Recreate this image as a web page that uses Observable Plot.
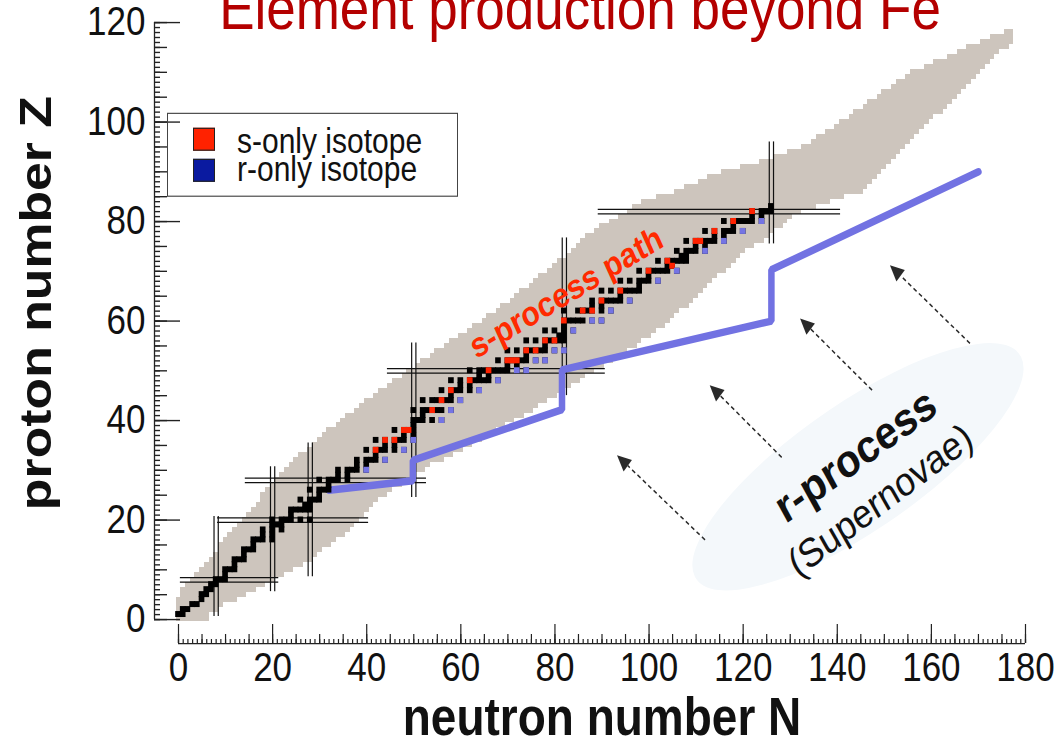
<!DOCTYPE html>
<html>
<head>
<meta charset="utf-8">
<script src="https://cdn.jsdelivr.net/npm/d3@7"></script>
<script src="https://cdn.jsdelivr.net/npm/@observablehq/plot@0.6"></script>
<style>
html, body { margin: 0; padding: 0; background: #fff; overflow: hidden; }
#outer { position: relative; width: 1062px; height: 748px; overflow: hidden; background: #fff; }
#wrap { position: absolute; left: 0; top: 0; width: 1062px; height: 650px; transform-origin: 0 0; font-family: "Liberation Sans", Arial, Helvetica, sans-serif; }
#legend { position: absolute; left: 167px; top: 98.2px; width: 291px; height: 73px; box-sizing: border-box; border: 1.4px solid #444; }
#legend .sw { position: absolute; left: 25px; width: 22px; height: 20px; box-sizing: border-box; border: 1.2px solid #222; }
#legend .lab { position: absolute; left: 69px; font-size: 30px; line-height: 24px; color: #111; white-space: nowrap; }
</style>
</head>
<body>
<div id="outer"><div id="wrap"></div></div>
<script>
// ---------------- data ----------------
// Extent of known nuclides: for Z = 0,1,2,... (array index), lightest and heaviest N
const bandNmin = [0,0,0,0,0,1,1,2,3,4,
  5,6,7,8,9,9,10,11,12,13,
  14,15,16,17,18,18,19,20,21,22,
  23,24,25,26,28,29,30,31,32,34,
  35,36,38,39,40,42,43,45,46,48,
  49,51,52,54,55,57,58,60,62,63,
  65,66,68,69,71,72,73,75,76,77,
  79,80,81,83,84,85,86,87,89,90,
  92,94,96,97,99,102,106,108,111,113,
  116,120,124,127,130,133,135,136,138,140,
  141,143,144,146,147,149,150,152,153,155,
  156,159,161,164,166,168,171,173,176];
const bandNmax = [6,6,8,9,12,14,16,18,20,22,
  24,26,28,29,30,32,33,35,36,37,
  38,39,40,41,42,44,45,47,48,50,
  52,53,56,58,60,62,64,65,67,69,
  71,73,75,76,78,80,81,83,85,86,
  88,90,92,93,95,97,98,100,101,103,
  104,105,106,108,109,110,111,112,113,114,
  116,117,118,119,120,122,124,125,126,128,
  129,130,132,135,138,141,145,146,147,148,
  149,150,151,152,153,154,155,156,157,158,
  159,160,162,163,164,165,166,167,168,169,
  170,171,172,173,174,176,177,177,177];

// Stable isotopes: [Z, [N, ...]]
const stableIsotopes = [
  [1,[0,1]],[2,[1,2]],[3,[3,4]],[4,[5]],[5,[5,6]],[6,[6,7]],[7,[7,8]],[8,[8,9,10]],[9,[10]],
  [10,[10,11,12]],[11,[12]],[12,[12,13,14]],[13,[14]],[14,[14,15,16]],[15,[16]],[16,[16,17,18,20]],
  [17,[18,20]],[18,[18,20,22]],[19,[20,21,22]],[20,[20,22,23,24,26,28]],[21,[24]],[22,[24,25,26,27,28]],
  [23,[27,28]],[24,[26,28,29,30]],[25,[30]],[26,[28,30,31,32]],[27,[32]],[28,[30,32,33,34,36]],
  [29,[34,36]],[30,[34,36,37,38,40]],[31,[38,40]],[32,[38,40,41,42,44]],[33,[42]],[34,[40,42,43,44,46,48]],
  [35,[44,46]],[36,[42,44,46,47,48,50]],[37,[48,50]],[38,[46,48,49,50]],[39,[50]],[40,[50,51,52,54,56]],
  [41,[52]],[42,[50,52,53,54,55,56,58]],[44,[52,54,55,56,57,58,60]],[45,[58]],[46,[56,58,59,60,62,64]],
  [47,[60,62]],[48,[58,60,62,63,64,65,66,68]],[49,[64,66]],[50,[62,64,65,66,67,68,69,70,72,74]],
  [51,[70,72]],[52,[68,70,71,72,73,74,76,78]],[53,[74]],[54,[70,72,74,75,76,77,78,80,82]],[55,[78]],
  [56,[74,76,78,79,80,81,82]],[57,[81,82]],[58,[78,80,82,84]],[59,[82]],[60,[82,83,84,85,86,88,90]],
  [62,[82,85,86,87,88,90,92]],[63,[88,90]],[64,[88,90,91,92,93,94,96]],[65,[94]],[66,[90,92,94,95,96,97,98]],
  [67,[98]],[68,[94,96,98,99,100,102]],[69,[100]],[70,[98,100,101,102,103,104,106]],[71,[104,105]],
  [72,[102,104,105,106,107,108]],[73,[107,108]],[74,[106,108,109,110,112]],[75,[110,112]],
  [76,[108,110,111,112,113,114,116]],[77,[114,116]],[78,[112,114,116,117,118,120]],[79,[118]],
  [80,[116,118,119,120,121,122,124]],[81,[122,124]],[82,[122,124,125,126]],[83,[126]]
];
// s-only isotopes [Z, N]
const sOnlyIsotopes = [[34,42],[36,44],[36,46],[38,48],[38,49],[42,54],[44,56],[46,58],[48,62],[50,66],
  [52,70],[52,71],[52,72],[54,74],[54,76],[56,78],[56,80],[60,82],[62,86],[62,88],[64,90],[66,94],
  [70,100],[71,105],[72,104],[76,110],[76,111],[78,114],[80,118],[82,122]];
// r-only isotopes [Z, N]
const rOnlyIsotopes = [[30,40],[32,44],[34,48],[36,50],[40,56],[42,58],[44,60],[46,64],[48,68],[50,72],
  [50,74],[52,76],[52,78],[54,80],[54,82],[58,84],[60,88],[60,90],[62,92],[64,96],[68,102],[70,106],
  [74,112],[76,116],[78,120],[80,124]];

// r-process path
const rPathN = [32, 49.8, 49.8, 81.5, 81.5, 126, 126, 170];
const rPathZ = [26, 27.9, 32, 42.2, 50.2, 60, 70.3, 90];

// magic numbers (double lines)
const magicN = [8, 20, 28, 50, 82, 126];
const magicNZfrom = [0.6, 5.6, 8.6, 24.5, 45, 75.5];
const magicNZto = [20.7, 30.7, 35.5, 55.6, 76.7, 96];
const magicZ = [8, 20, 28, 50, 82];
const magicZNfrom = [0.4, 8.3, 14.2, 44.4, 89.2];
const magicZNto = [21.3, 40.4, 52.7, 90.7, 140.7];

// dashed arrows (tail -> head)
const arrowTailN = [112, 128.3, 147.5, 168.3];
const arrowTailZ = [15.9, 32.5, 46, 55.4];
const arrowHeadN = [93.3, 113, 132.2, 151.3];
const arrowHeadZ = [32.9, 47, 60.4, 71.1];

// ticks and texts
const xTickLabels = [0, 20, 40, 60, 80, 100, 120, 140, 160, 180];
const yTickLabels = [0, 20, 40, 60, 80, 100, 120];
const titleText = ["Element production beyond Fe"];
const xLabel = ["neutron number N"];
const yLabel = ["proton number Z"];
const sPathLabel = ["s-process path"];
const rLabel = ["r-process"];
const rSubLabel = ["(Supernovae)"];
const legendLabels = ["s-only isotope", "r-only isotope"];

// ---------------- layout ----------------
// the reference picture is stretched vertically; draw at H0 and stretch by S
const W = 1062, H = 748, H0 = 650, S = H / H0;
const deg = (a) => Math.atan(Math.tan(a * Math.PI / 180) / S) * 180 / Math.PI; // screen angle -> drawing angle

// ---------------- tables ----------------
const band = bandNmin.map((n, i) => ({Z: i, n1: n, n2: bandNmax[i]}));
const stable = stableIsotopes.flatMap(([Z, Ns]) => Ns.map(N => ({N, Z})));
const sOnly = sOnlyIsotopes.map(([Z, N]) => ({N, Z}));
const rOnly = rOnlyIsotopes.map(([Z, N]) => ({N, Z}));
const rPath = rPathN.map((N, i) => ({N, Z: rPathZ[i]}));
const magicV = magicN.map((N, i) => ({N, z1: magicNZfrom[i], z2: magicNZto[i]}));
const magicH = magicZ.map((Z, i) => ({Z, n1: magicZNfrom[i], n2: magicZNto[i]}));

const xMinor = d3.range(0, 181, 1), xMid = d3.range(0, 181, 5);
const yMinor = d3.range(0, 121, 1), yMid = d3.range(0, 121, 5);

const h = 0.6;
const cell = (fill) => ({x1: d => d.N - h, x2: d => d.N + h, y1: d => d.Z - h, y2: d => d.Z + h, fill});

function ellipseMark(index, scales) {
  const cx = scales.x(144.5), cy = scales.y(30.6);
  return d3.create("svg:ellipse")
    .attr("cx", cx).attr("cy", cy).attr("rx", 189).attr("ry", 57)
    .attr("transform", `rotate(${-deg(34)} ${cx} ${cy})`)
    .attr("fill", "#f4f8fb").node();
}
function arrowsMark(index, scales) {
  const g = d3.create("svg:g");
  arrowTailN.forEach((_, i) => {
    const x1 = scales.x(arrowTailN[i]), y1 = scales.y(arrowTailZ[i]);
    const x2 = scales.x(arrowHeadN[i]), y2 = scales.y(arrowHeadZ[i]);
    const a = Math.atan2(y2 - y1, x2 - x1), L = 14, w = 6.5;
    const bx = x2 - L * Math.cos(a), by = y2 - L * Math.sin(a);
    g.append("line").attr("x1", x1).attr("y1", y1).attr("x2", bx).attr("y2", by)
      .attr("stroke", "#2a2a2a").attr("stroke-width", 1.4).attr("stroke-dasharray", "4,3");
    g.append("path")
      .attr("d", `M${x2},${y2}L${bx - w * Math.sin(a)},${by + w * Math.cos(a)}L${bx + w * Math.sin(a)},${by - w * Math.cos(a)}Z`)
      .attr("fill", "#2a2a2a");
  });
  return g.node();
}

const axisCommon = {label: null, stroke: "#222", strokeWidth: 1.2};
const yTop = 22 / S, yBottom = 619 / S;

const chart = Plot.plot({
  width: W, height: H0,
  marginLeft: 178, marginRight: 37, marginTop: yTop, marginBottom: H0 - yBottom,
  x: {domain: [0, 180]},
  y: {domain: [0, 120]},
  style: {fontFamily: '"Liberation Sans", Arial, Helvetica, sans-serif', background: "white", color: "#111", overflow: "hidden"},
  marks: [
    // known nuclides
    Plot.rect(band, {x1: d => d.n1 - 0.5, x2: d => d.n2 + 0.5, y1: d => d.Z - 0.5, y2: d => d.Z + 0.5, fill: "#cdc5bd", shapeRendering: "crispEdges"}),
    // magic number double lines
    ...[-0.45, 0.45].map(o => Plot.ruleX(magicV, {x: d => d.N + o, y1: "z1", y2: "z2", stroke: "#111", strokeWidth: 1.2})),
    ...[-0.45, 0.45].map(o => Plot.ruleY(magicH, {y: d => d.Z + o, x1: "n1", x2: "n2", stroke: "#111", strokeWidth: 1.1})),
    // r-process path
    Plot.line(rPath, {x: "N", y: "Z", stroke: "#7272e2", strokeWidth: 6.5, strokeLinejoin: "miter"}),
    // isotopes
    Plot.rect(stable, cell("#000")),
    Plot.rect(sOnly, cell("#ff2200")),
    Plot.rect(rOnly, cell("#7474e4")),
    // annotations
    ellipseMark,
    arrowsMark,
    Plot.text(sPathLabel, {x: 82.4, y: 65.7, text: d => d, rotate: -deg(31), fontSize: 30, fontWeight: "bold", fill: "#ff2a00"}),
    Plot.text(rLabel, {x: 143.9, y: 32.9, text: d => d, rotate: -deg(36), fontSize: 40, fontWeight: "bold", fill: "#111"}),
    Plot.text(rSubLabel, {x: 149.2, y: 23.9, text: d => d, rotate: -deg(37), fontSize: 35, fill: "#111"}),
    // y axis
    Plot.ruleX([0], {y1: 0, y2: 120, dx: -24, stroke: "#222", strokeWidth: 1.3}),
    Plot.axisY(yMinor, {anchor: "left", tickSize: -6, dx: -24, fill: "none", ...axisCommon}),
    Plot.axisY(yMid, {anchor: "left", tickSize: -13, dx: -24, fill: "none", ...axisCommon}),
    Plot.axisY(yTickLabels, {anchor: "left", tickSize: -26, dx: -24, fill: "none", ...axisCommon}),
    Plot.axisY(yTickLabels, {anchor: "left", tickSize: 0, tickPadding: 9, dx: -24, fontSize: 35, label: null, fill: "#111"}),
    // x axis
    Plot.ruleY([0], {x1: 0, x2: 180, dy: 24 / S, stroke: "#222", strokeWidth: 1.2}),
    Plot.axisX(xMinor, {anchor: "bottom", tickSize: -4 / S, dy: 24 / S, fill: "none", ...axisCommon}),
    Plot.axisX(xMid, {anchor: "bottom", tickSize: -9 / S, dy: 24 / S, fill: "none", ...axisCommon}),
    Plot.axisX(xTickLabels, {anchor: "bottom", tickSize: -19 / S, dy: 24 / S, fill: "none", ...axisCommon}),
    Plot.axisX(xTickLabels, {anchor: "bottom", tickSize: 0, tickPadding: 9 / S, dy: 24 / S, fontSize: 35, label: null, fill: "#111"}),
    // axis titles
    Plot.text(xLabel, {frameAnchor: "bottom", dy: 115 / S, lineAnchor: "bottom", text: d => d, fontSize: 46, fontWeight: "bold", fill: "#111"}),
    Plot.text(yLabel, {frameAnchor: "left", textAnchor: "middle", dx: -128, dy: -18 / S, rotate: -90, lineAnchor: "bottom", text: d => d, fontSize: 45, fontWeight: "bold", fill: "#111"}),
    // title (cropped at the top like the reference)
    Plot.text(titleText, {frameAnchor: "top", dx: -22, dy: 6 / S, lineAnchor: "bottom", text: d => d, fontSize: 53, fill: "#b40000"})
  ]
});

const wrap = document.getElementById("wrap");
wrap.style.transform = `scaleY(${S})`;
wrap.appendChild(chart);

// legend
const legend = document.createElement("div");
legend.id = "legend";
const legendColors = ["#ff2200", "#0a1aa0"];
legendLabels.forEach((t, i) => {
  const sw = document.createElement("div");
  sw.className = "sw";
  sw.style.top = (12.2 + i * 26.9) + "px";
  sw.style.background = legendColors[i];
  const lab = document.createElement("div");
  lab.className = "lab";
  lab.style.top = (11.5 + i * 24.3) + "px";
  lab.textContent = t;
  legend.appendChild(sw);
  legend.appendChild(lab);
});
wrap.appendChild(legend);
</script>
</body>
</html>
